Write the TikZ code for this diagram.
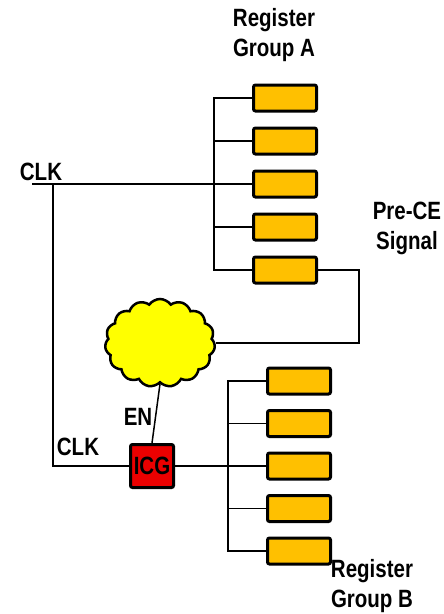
\documentclass[tikz,border=0pt]{standalone}
\usepackage{fontspec}
\usepackage{tikz}
\usetikzlibrary{shapes.symbols, positioning}
\newfontfamily\lblfont{Liberation Sans}[FakeStretch=0.82]
\definecolor{regfill}{RGB}{255,192,0}
\definecolor{cloudfill}{RGB}{255,255,0}
\definecolor{icgfill}{RGB}{235,0,0}

\begin{document}
\begin{tikzpicture}[x=1pt, y=-1pt,
      font=\lblfont\bfseries\fontsize{25}{30}\selectfont,
      reg/.style={rectangle, draw=black, fill=regfill, line width=3pt,
                  rounded corners=2pt, minimum width=63pt, minimum height=26pt,
                  inner sep=0pt},
      logic/.style={cloud, cloud puffs=15, cloud puff arc=110, aspect=1.25,
                  draw=black, fill=cloudfill, line width=2.5pt,
                  minimum width=110pt, minimum height=88pt},
      gate/.style={rectangle, draw=black, fill=icgfill, line width=3pt,
                  rounded corners=2pt, minimum size=43pt, inner sep=0pt},
      wire/.style={line width=1.5pt},
      lbl/.style={align=center, inner sep=0pt, text=black}
    ]
      \useasboundingbox (0,0) rectangle (444,614);
      % register groups
      \foreach \i in {1,...,5} {
        \node[reg] (a\i) at (285,{98+43*(\i-1)}) {};
        \node[reg] (b\i) at (299,{381+42.5*(\i-1)}) {};
      }
      \node[logic] (cl) at (160,343) {};
      \node[gate] (icg) at (152,466) {};
      \node[lbl] (icgt) at (icg.center) {ICG};
      % labels
      \node[lbl] (ga) at (274,35) {Register\\Group A};
      \node[lbl] (gb) at (372,586) {Register\\Group B};
      \node[lbl] (pce) at (407,228) {Pre-CE\\Signal};
      \node[lbl] (clka) at (41,172) {CLK};
      \node[lbl] (clkb) at (78,447) {CLK};
      \node[lbl] (en) at (138,417) {EN};
      % clock wiring
      \coordinate (clkin) at (32,184);
      \coordinate (tap) at (53,184);
      \coordinate (ba) at (214,98);
      \coordinate (bb) at (228,381);
      \draw[wire] (clkin) -- (a3.west);
      \draw[wire] (a1.west) -- (a1.west -| ba) -- (a5.west -| ba) -- (a5.west);
      \draw[wire] (b1.west) -- (b1.west -| bb) -- (b5.west -| bb) -- (b5.west);
      \foreach \i in {2,3,4} {
        \draw[wire] (a\i.west) -- (a\i.west -| ba);
        \draw[wire] (b\i.west) -- (b\i.west -| bb);
      }
      \draw[wire] (tap) |- (icg.west);
      \draw[wire] (icg.east) -- (icg.east -| bb);
      % enable path
      \draw[wire] (a5.east) -- ++(41,0) |- (cl.east);
      \draw[wire] (cl.south) -- (icg.north);
    \end{tikzpicture}
\end{document}
